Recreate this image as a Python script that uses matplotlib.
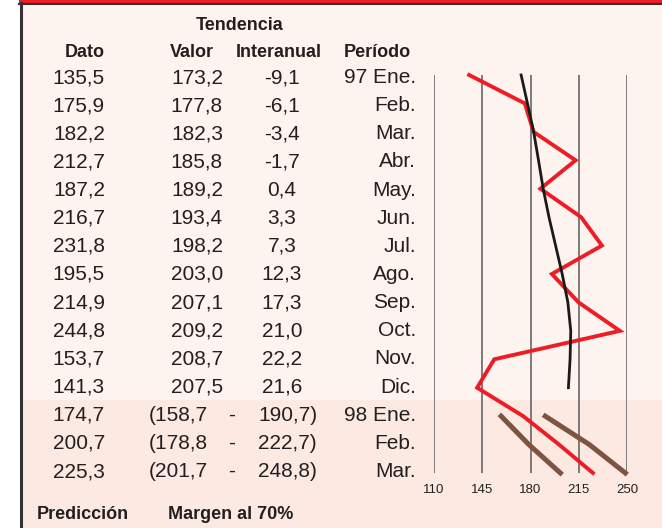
import matplotlib
matplotlib.use('Agg')
import matplotlib.pyplot as plt
from matplotlib.patches import Rectangle

plt.rcParams['font.family'] = ['Liberation Sans', 'DejaVu Sans']

# datos
dato = [135.5, 175.9, 182.2, 212.7, 187.2, 216.7, 231.8, 195.5, 214.9,
        244.8, 153.7, 141.3, 174.7, 200.7, 225.3]
valor = [173.2, 177.8, 182.3, 185.8, 189.2, 193.4, 198.2, 203.0, 207.1,
         209.2, 208.7, 207.5]
interanual = [-9.1, -6.1, -3.4, -1.7, 0.4, 3.3, 7.3, 12.3, 17.3, 21.0,
              22.2, 21.6]
periodo = ['97 Ene.', 'Feb.', 'Mar.', 'Abr.', 'May.', 'Jun.', 'Jul.',
           'Ago.', 'Sep.', 'Oct.', 'Nov.', 'Dic.', '98 Ene.', 'Feb.', 'Mar.']
margen_inf = [158.7, 178.8, 201.7]
margen_sup = [190.7, 222.7, 248.8]
ticks = [110, 145, 180, 215, 250]

W, H = 662, 528
fig = plt.figure(figsize=(W / 100, H / 100), dpi=100)
fig.patch.set_facecolor('white')

# eje de fondo en pixeles
ax = fig.add_axes([0, 0, 1, 1])
ax.set_xlim(0, W)
ax.set_ylim(H, 0)
ax.axis('off')

ax.add_patch(Rectangle((21, 4), W - 21, H - 4, color='#FEF4EF', lw=0))
ax.add_patch(Rectangle((21, 400), W - 21, H - 400, color='#FCEAE2', lw=0))
ax.add_patch(Rectangle((19, 0), W - 19, 3, color='#EE1C25', lw=0))
ax.plot([19, W], [4, 4], color='#333333', lw=1.5)
ax.plot([20.5, 20.5], [3, H], color='#333333', lw=2.2)

fmt = lambda v: f'{v:.1f}'.replace('.', ',')
txt = '#231F20'
n = len(dato)
y0, y1 = 75, 473
step = (y1 - y0) / (n - 1)
tstep = (477 - 83) / (n - 1)  # filas de texto

# cabeceras
hb = dict(fontsize=13, fontweight='bold', color=txt, va='baseline')
ax.text(240, 30, 'Tendencia', ha='center', **hb)
ax.text(105, 57, 'Dato', ha='right', **hb)
ax.text(170, 57, 'Valor', ha='left', **hb)
ax.text(279, 57, 'Interanual', ha='center', **hb)
ax.text(344, 57, 'Período', ha='left', **hb)
ax.text(37, 519, 'Predicción', ha='left', **hb)
ax.text(168, 519, 'Margen al 70%', ha='left', **hb)

rb = dict(fontsize=15, color=txt, va='baseline')
for i in range(n):
    yb = 83 + i * tstep
    ax.text(105, yb, fmt(dato[i]), ha='right', **rb)
    ax.text(416, yb, periodo[i], ha='right', **rb)
    if i < len(valor):
        ax.text(223, yb, fmt(valor[i]), ha='right', **rb)
        ax.text(282, yb, fmt(interanual[i]), ha='center', **rb)
    else:
        j = i - len(valor)
        ax.text(149, yb, '(' + fmt(margen_inf[j]), ha='left', **rb)
        ax.text(232, yb, '-', ha='center', **rb)
        ax.text(317, yb, fmt(margen_sup[j]) + ')', ha='right', **rb)

# grafico
x_a, x_b = 434, 627
cx = fig.add_axes([x_a / W, 1 - y1 / H, (x_b - x_a) / W, (y1 - y0) / H])
cx.patch.set_alpha(0)
cx.set_xlim(ticks[0], ticks[-1])
cx.set_ylim(n - 1, 0)
for s in cx.spines.values():
    s.set_visible(False)
cx.set_yticks([])
cx.set_xticks(ticks)
cx.set_xticklabels([str(t) for t in ticks], fontsize=9.5, color=txt)
cx.tick_params(axis='x', length=0, pad=8)
for t in ticks:
    cx.axvline(t, color='#5A5A5A', lw=1.1, zorder=1)

rows = list(range(n))
cx.plot(dato, rows, color='#EE1C25', lw=2.8, clip_on=False, zorder=3,
        solid_joinstyle='miter')
cx.plot(valor, rows[:len(valor)], color='#1A1A1A', lw=2.0, clip_on=False,
        zorder=4)
pred = rows[len(valor):]
cx.plot(margen_inf, pred, color='#7E5340', lw=3.6, clip_on=False, zorder=2)
cx.plot(margen_sup, pred, color='#7E5340', lw=3.6, clip_on=False, zorder=2)

fig.savefig('out.png', dpi=100)
